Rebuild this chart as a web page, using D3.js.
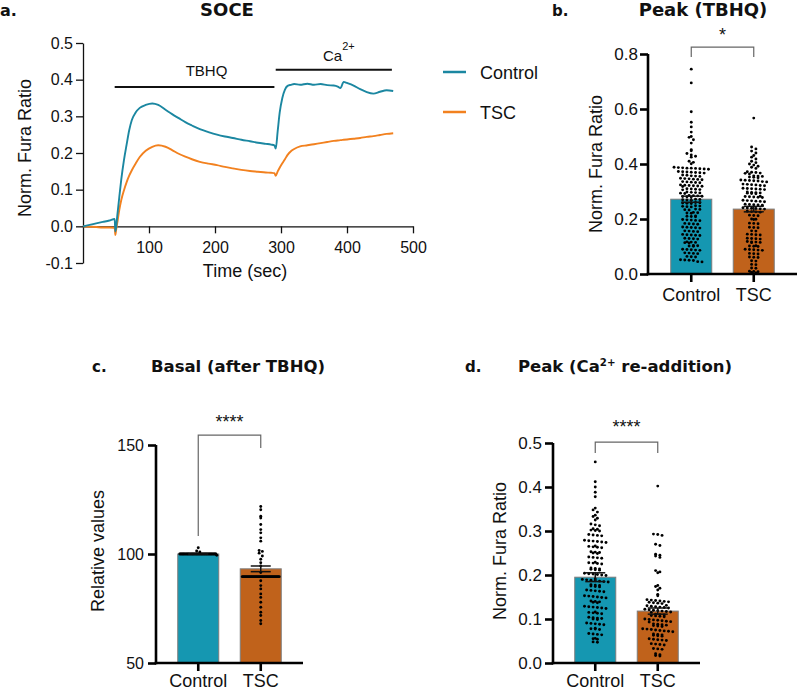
<!DOCTYPE html>
<html><head><meta charset="utf-8">
<script src="https://cdn.jsdelivr.net/npm/d3@7"></script>
<style>
body{margin:0;background:#fff;}
text{font-family:"Liberation Sans",Arial,Helvetica,sans-serif;fill:#111;}
.ttl{font-family:"DejaVu Sans",Verdana,sans-serif;font-weight:bold;}
</style>
</head><body>
<svg id="chart" width="797" height="691" xmlns="http://www.w3.org/2000/svg"></svg>
<script>
// ---------- Panel a: SOCE traces ----------
const traceTime = [0,10,20,30,40,48,49,50,52,55,58,62,66,70,74,80,86,95,105,114,125,135,145,155,165,177,190,203,215,227,240,253,265,277,285,290,292,295,298,302,306,310,315,320,329,340,350,360,370,380,386,390,395,400,410,420,430,440,450,460,470];
const traceControl = [0.000,0.004,0.008,0.012,0.016,0.020,-0.014,-0.005,0.030,0.080,0.128,0.180,0.222,0.262,0.290,0.311,0.323,0.331,0.335,0.331,0.318,0.306,0.295,0.284,0.275,0.265,0.257,0.250,0.245,0.241,0.236,0.232,0.228,0.225,0.223,0.221,0.212,0.260,0.310,0.350,0.373,0.383,0.386,0.388,0.386,0.389,0.386,0.388,0.385,0.384,0.381,0.377,0.394,0.391,0.384,0.374,0.366,0.362,0.367,0.371,0.369];
const traceTSC = [0.000,-0.001,-0.002,-0.003,-0.003,-0.004,-0.024,-0.012,0.010,0.045,0.072,0.098,0.120,0.138,0.153,0.172,0.189,0.206,0.217,0.221,0.217,0.208,0.198,0.190,0.183,0.176,0.171,0.167,0.162,0.158,0.154,0.151,0.149,0.147,0.146,0.145,0.138,0.150,0.160,0.172,0.183,0.195,0.205,0.211,0.218,0.221,0.224,0.227,0.230,0.233,0.234,0.235,0.236,0.237,0.239,0.241,0.244,0.246,0.249,0.252,0.254];
const aYTicks = [-0.1,0,0.1,0.2,0.3,0.4,0.5];
const aXTicks = [100,200,300,400,500];
const tbhqPeriod = [48,290];
const caPeriod = [292,468];

// ---------- Groups ----------
const groups = ["Control","TSC"];

// ---------- Panel b: Peak (TBHQ) ----------
const bMeans = [0.272,0.236];
const bSems = [0.011,0.010];
const bTicks = [0,0.2,0.4,0.6,0.8];
const bControl = [0.745,0.695,0.590,0.552,0.535,0.516,0.500,0.497,0.488,0.476,0.452,0.448,0.438,0.433,0.428,0.425,0.410,0.406,0.401,
0.388,0.387,0.386,0.385,0.385,0.384,0.383,0.382,0.381,
0.373,0.372,0.371,0.370,0.369,0.368,0.367,
0.360,0.359,0.357,0.356,0.355,
0.348,0.347,0.346,0.345,0.344,0.343,
0.336,0.335,0.334,0.333,0.332,
0.324,0.323,0.322,0.321,0.320,0.319,0.318,
0.310,0.309,0.308,0.307,0.306,
0.298,0.297,0.296,0.295,0.294,0.293,
0.286,0.285,0.284,0.283,0.282,0.281,0.280,
0.272,0.271,0.270,0.269,0.268,
0.260,0.259,0.258,0.257,0.256,
0.248,0.247,0.246,0.245,0.244,
0.236,0.235,0.234,0.233,
0.224,0.223,0.222,0.221,
0.211,0.210,0.209,0.208,
0.198,0.197,0.196,0.195,0.194,
0.184,0.183,0.182,0.181,
0.171,0.170,0.169,0.168,0.167,
0.157,0.156,0.155,0.154,
0.144,0.143,0.142,0.141,0.140,
0.130,0.129,0.128,0.127,
0.117,0.116,0.115,0.114,0.113,
0.104,0.103,0.102,0.101,
0.090,0.089,0.088,0.087,0.086,
0.077,0.076,0.075,0.074,
0.064,0.063,0.062,
0.052,0.051,0.050,0.049,
0.045,0.044];
const bTSC = [0.567,0.462,0.455,0.447,0.440,0.431,0.425,0.418,0.410,0.405,0.400,0.396,0.392,0.388,0.384,
0.372,0.370,0.369,0.367,0.366,0.364,
0.357,0.356,0.355,0.353,0.352,0.350,
0.342,0.341,0.340,0.339,0.338,0.336,0.335,
0.327,0.326,0.325,0.324,0.322,0.321,
0.312,0.311,0.310,0.309,0.308,0.307,
0.298,0.297,0.296,0.295,0.294,0.293,0.292,
0.283,0.282,0.281,0.280,0.279,0.278,
0.268,0.267,0.266,0.265,0.264,0.263,
0.254,0.253,0.252,0.251,0.250,
0.241,0.240,0.239,0.238,0.237,0.236,
0.228,0.227,0.226,0.225,
0.214,0.213,0.212,
0.200,0.199,0.198,
0.185,0.184,0.183,
0.170,0.169,0.168,
0.157,0.156,
0.145,0.144,0.143,0.142,
0.130,0.129,0.128,0.127,
0.118,0.117,0.116,0.115,0.114,
0.103,0.102,0.101,0.100,
0.090,0.089,0.088,0.087,0.086,
0.075,0.074,0.073,
0.062,0.061,0.060,
0.048,0.047,
0.035,0.034,
0.022,0.021,
0.010,0.009,0.008,0.006,0.004];

// ---------- Panel c: Basal (after TBHQ) ----------
const cMeans = [100.0,93.2];
const cSems = [0.1,1.3];
const cTicks = [50,100,150];
const cControl = [100,100,100,100,100,100,100,100,100,100,100,100,100,100,100,100,100,100,100,100,
100,100,100,100,100,100,100,100,100,100,100,100,100,100,100,100,100,100,100,100,
100,100,100,100,100,102.9,101.4,100.9,99.4];
const cTSC = [121.8,120.3,117.3,116.5,113.5,111.2,109.7,107.4,105.9,101.6,101.2,100.4,99.1,97.6,96.0,94.5,91.5,
89.6,89.6,89.6,89.6,89.6,89.6,89.6,89.6,89.6,89.6,89.6,89.6,89.6,89.6,89.6,89.6,89.6,89.6,89.6,89.6,
89.6,89.6,89.6,89.6,89.6,89.6,89.6,89.6,89.6,89.6,89.6,89.6,89.6,89.6,89.6,89.6,89.6,89.6,
87.7,85.5,84.0,81.7,80.1,77.9,75.6,73.3,71.8,69.5,68.0];

// ---------- Panel d: Peak (Ca2+ re-addition) ----------
const dMeans = [0.195,0.118];
const dSems = [0.010,0.007];
const dTicks = [0,0.1,0.2,0.3,0.4,0.5];
const dControl = [0.457,0.412,0.400,0.388,0.378,0.352,0.348,0.343,0.336,0.333,0.329,0.325,
0.316,0.314,0.312,
0.305,0.304,0.302,0.301,0.300,
0.292,0.291,0.290,0.289,
0.279,0.278,0.277,0.276,0.275,0.274,
0.266,0.265,0.264,0.263,0.262,
0.253,0.252,0.251,0.250,0.249,
0.241,0.240,0.239,0.238,
0.229,0.228,0.227,0.226,0.225,
0.216,0.215,0.214,0.213,0.212,0.211,
0.204,0.203,0.202,0.201,0.200,0.199,
0.191,0.190,0.189,0.188,0.187,0.186,0.185,0.184,
0.178,0.177,0.176,0.175,0.174,0.173,
0.166,0.165,0.164,0.163,0.162,
0.153,0.152,0.151,0.150,0.149,0.148,
0.141,0.140,0.139,0.138,0.137,
0.129,0.128,0.127,0.126,0.125,0.124,
0.116,0.115,0.114,0.113,0.112,
0.104,0.103,0.102,0.101,0.100,0.099,
0.091,0.090,0.089,0.088,0.087,
0.079,0.078,0.077,0.076,
0.067,0.066,0.065,0.064,
0.056,0.055,0.054,
0.048,0.047];
const dTSC = [0.402,0.293,0.292,0.290,0.270,0.267,0.247,0.245,0.243,0.240,0.210,0.207,0.205,0.176,0.174,0.170,0.166,0.156,0.153,
0.144,0.143,0.142,0.141,0.140,0.139,0.138,0.137,0.136,0.135,
0.131,0.130,0.129,0.128,0.127,0.126,0.125,
0.122,0.121,0.120,0.119,0.118,0.117,0.116,0.115,
0.111,0.110,0.109,0.108,0.107,0.106,0.105,
0.100,0.099,0.098,0.097,0.096,0.095,0.094,0.093,
0.089,0.088,0.087,0.086,0.085,0.084,0.083,
0.078,0.077,0.076,0.075,0.074,0.073,0.072,0.071,
0.066,0.065,0.064,0.063,0.062,0.061,
0.055,0.054,0.053,0.052,0.051,
0.044,0.043,0.042,0.041,
0.033,0.032,0.031,
0.021,0.019,0.017,0.016];

// ---------- Colours ----------
const lineColors = ["#1b87a1","#f2811f"];
const barColors = ["#1597b1","#c0621b"];

const svg = d3.select("#chart");
svg.append("rect").attr("width",797).attr("height",691).attr("fill","#fff");

// ================= Panel a =================
const xa = d3.scaleLinear().domain([0,500]).range([83,413]);
const ya = d3.scaleLinear().domain([-0.1,0.5]).range([263,43]);
const ga = svg.append("g");
const fmt1 = v => d3.format(".1f")(v).replace("−","-");
const axA = ga.append("g").attr("transform","translate(83,0)")
  .call(d3.axisLeft(ya).tickValues(aYTicks).tickSize(7).tickPadding(3).tickSizeOuter(0).tickFormat(fmt1));
const axAx = ga.append("g").attr("transform",`translate(0,${ya(0)})`)
  .call(d3.axisBottom(xa).tickValues(aXTicks).tickSize(7).tickPadding(8).tickSizeOuter(0));
[axA,axAx].forEach(a=>{
  a.selectAll("path,line").attr("stroke","#111").attr("stroke-width",1.3);
  a.selectAll("text").attr("font-size",16).attr("fill","#111").attr("font-family","Liberation Sans, Arial, sans-serif");
});
const lineGen = vals => d3.line().curve(d3.curveMonotoneX).x((d,i)=>xa(traceTime[i])).y(d=>ya(d))(vals);
ga.append("path").attr("d",lineGen(traceTSC)).attr("fill","none").attr("stroke",lineColors[1]).attr("stroke-width",1.9);
ga.append("path").attr("d",lineGen(traceControl)).attr("fill","none").attr("stroke",lineColors[0]).attr("stroke-width",1.9);
// treatment bars
ga.append("line").attr("x1",xa(tbhqPeriod[0])).attr("x2",xa(tbhqPeriod[1])).attr("y1",ya(0.380)).attr("y2",ya(0.380)).attr("stroke","#111").attr("stroke-width",2);
ga.append("text").attr("x",(xa(tbhqPeriod[0])+xa(tbhqPeriod[1]))/2+12).attr("y",76).attr("text-anchor","middle").attr("font-size",15).text("TBHQ");
ga.append("line").attr("x1",xa(caPeriod[0])).attr("x2",xa(caPeriod[1])).attr("y1",ya(0.427)).attr("y2",ya(0.427)).attr("stroke","#111").attr("stroke-width",2);
const caT = ga.append("text").attr("x",323).attr("y",61).attr("font-size",15);
caT.append("tspan").text("Ca");
caT.append("tspan").attr("dy",-11).attr("font-size",11).text("2+");
// axis title
ga.append("text").attr("x",xa(250)-3).attr("y",277).attr("text-anchor","middle").attr("font-size",18).text("Time (sec)");
ga.append("text").attr("transform","translate(31,148) rotate(-90)").attr("text-anchor","middle").attr("font-size",18).text("Norm. Fura Ratio");
// legend
groups.forEach((g,i)=>{
  const y = 72 + i*40;
  ga.append("line").attr("x1",443).attr("x2",466).attr("y1",y).attr("y2",y).attr("stroke",lineColors[i]).attr("stroke-width",2.5);
  ga.append("text").attr("x",480).attr("y",y+6.5).attr("font-size",18).text(g);
});
ga.append("text").attr("class","ttl").attr("x",227).attr("y",16).attr("text-anchor","middle").attr("font-size",18).text("SOCE");
ga.append("text").attr("class","ttl").attr("x",0).attr("y",16).attr("font-size",16).text("a.");

// ================= bar + scatter panels =================
function swarm(values, y, cx, halfW, dx){
  const rowH = 3.3;
  const pts = values.map(v=>({v, py:y(v)}));
  const rows = d3.groups(pts, d=>Math.round(d.py/rowH));
  const out = [];
  rows.forEach(([k,arr])=>{
    const n = arr.length;
    const step = n>1 ? Math.min(dx,(2*halfW-4)/(n-1)) : 0;
    arr.forEach((p,i)=>out.push({x:cx+(i-(n-1)/2)*step, y:p.py}));
  });
  return out;
}

function barPanel(cfg){
  const g = svg.append("g");
  const y = d3.scaleLinear().domain(cfg.domain).range(cfg.yRange);
  const x = d3.scaleBand().domain(groups).range(cfg.xRange).paddingInner(0.344).paddingOuter(cfg.po);
  const bw = x.bandwidth();
  // bars
  groups.forEach((gr,i)=>{
    g.append("rect").attr("x",x(gr)).attr("width",bw).attr("y",y(cfg.means[i]))
      .attr("height",y(cfg.domain[0])-y(cfg.means[i])).attr("fill",barColors[i]).attr("stroke","#7d7d7d").attr("stroke-width",1);
  });
  // dots
  cfg.data.forEach((vals,i)=>{
    const cx = x(groups[i])+bw/2;
    g.append("g").selectAll("circle").data(swarm(vals,y,cx,bw/2,cfg.dx)).join("circle")
      .attr("cx",d=>d.x).attr("cy",d=>d.y).attr("r",1.45).attr("fill","#000");
  });
  // error bars
  groups.forEach((gr,i)=>{
    const cx = x(gr)+bw/2, lo=y(cfg.means[i]-cfg.sems[i]), hi=y(cfg.means[i]+cfg.sems[i]);
    g.append("line").attr("x1",cx).attr("x2",cx).attr("y1",lo).attr("y2",hi).attr("stroke","#111").attr("stroke-width",1.5);
    [lo,hi].forEach(yy=>g.append("line").attr("x1",cx-10).attr("x2",cx+10).attr("y1",yy).attr("y2",yy).attr("stroke","#111").attr("stroke-width",1.5));
  });
  // axes
  const ax = g.append("g").attr("transform",`translate(${cfg.xRange[0]},0)`)
    .call(d3.axisLeft(y).tickValues(cfg.ticks).tickSize(8).tickPadding(cfg.yPad).tickSizeOuter(0).tickFormat(cfg.fmt));
  const axx = g.append("g").attr("transform",`translate(0,${cfg.yRange[0]})`)
    .call(d3.axisBottom(x).tickSize(8).tickPadding(cfg.xPad).tickSizeOuter(0));
  [ax,axx].forEach(a=>{
    a.selectAll("path,line").attr("stroke","#000").attr("stroke-width",2.6);
    a.selectAll("text").attr("fill","#111").attr("font-family","Liberation Sans, Arial, sans-serif");
  });
  ax.selectAll("text").attr("font-size",cfg.tickFont);
  axx.selectAll("text").attr("font-size",18);
  ax.select("path").attr("d",`M0,${cfg.yRange[0]+1.3}V${cfg.yRange[1]}`);
  axx.select("path").attr("d",`M${cfg.xRange[0]-1.3},0H${cfg.xRange[1]}`);
  // y title
  g.append("text").attr("transform",`translate(${cfg.yTitleX},${cfg.yTitleY}) rotate(-90)`).attr("text-anchor","middle").attr("font-size",18).text(cfg.yTitle);
  // significance bracket
  const c0 = x(groups[0])+bw/2, c1 = x(groups[1])+bw/2;
  const bt = y(cfg.bracket[0]);
  g.append("path").attr("d",`M${c0},${y(cfg.bracket[1])}V${bt}H${c1}V${y(cfg.bracket[2])}`)
    .attr("fill","none").attr("stroke","#666").attr("stroke-width",1.2);
  g.append("text").attr("x",(c0+c1)/2).attr("y",cfg.starY).attr("text-anchor","middle").attr("font-size",18).attr("fill","#444").text(cfg.stars);
  // titles
  const t = g.append("text").attr("class","ttl").attr("x",cfg.titleX).attr("y",cfg.titleY).attr("text-anchor","middle").attr("font-size",cfg.titleFont);
  cfg.title.forEach(part=>{
    const ts = t.append("tspan").text(part.t);
    if(part.sup) ts.attr("dy",-6).attr("font-size",cfg.titleFont*0.62);
    if(part.after) ts.attr("dy",6);
  });
  g.append("text").attr("class","ttl").attr("x",cfg.letterX).attr("y",cfg.titleY).attr("font-size",15).text(cfg.letter);
}

barPanel({domain:[0,0.8], yRange:[274,54], xRange:[648,797], po:0.364, means:bMeans, sems:bSems, data:[bControl,bTSC], dx:4.3, xPad:6,
  ticks:bTicks, fmt:d3.format(".1f"), yPad:2, tickFont:17, yTitle:"Norm. Fura Ratio", yTitleX:602, yTitleY:164,
  bracket:[0.825,0.789,0.789], stars:"*", starY:41, title:[{t:"Peak (TBHQ)"}], titleX:703, titleY:16, titleFont:18, letter:"b.", letterX:552});

barPanel({domain:[50,150], yRange:[663,445], xRange:[156,303], po:0.348, means:cMeans, sems:cSems, data:[cControl,cTSC], dx:3.2, xPad:3,
  ticks:cTicks, fmt:d3.format("d"), yPad:4, tickFont:16, yTitle:"Relative values", yTitleX:104, yTitleY:551,
  bracket:[154.5,108.2,148.6], stars:"****", starY:428, title:[{t:"Basal (after TBHQ)"}], titleX:238, titleY:372, titleFont:16.5, letter:"c.", letterX:92});

barPanel({domain:[0,0.5], yRange:[663,443], xRange:[553,700], po:0.348, means:dMeans, sems:dSems, data:[dControl,dTSC], dx:4.3, xPad:3,
  ticks:dTicks, fmt:d3.format(".1f"), yPad:3, tickFont:17, yTitle:"Norm. Fura Ratio", yTitleX:506, yTitleY:551,
  bracket:[0.502,0.477,0.477], stars:"****", starY:433,
  title:[{t:"Peak (Ca"},{t:"2+",sup:true},{t:" re-addition)",after:true}], titleX:625, titleY:372, titleFont:16.5, letter:"d.", letterX:465});
</script>
</body></html>
